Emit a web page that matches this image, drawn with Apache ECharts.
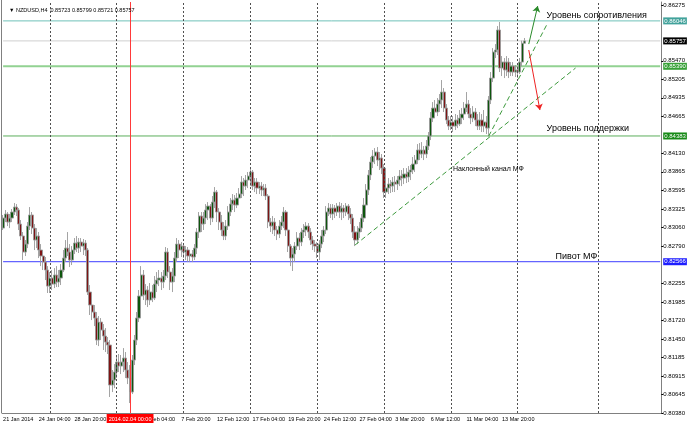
<!DOCTYPE html>
<html><head><meta charset="utf-8">
<script src="https://cdn.jsdelivr.net/npm/echarts@6/dist/echarts.min.js"></script>
<style>html,body{margin:0;padding:0;background:#fff}#c{width:688px;height:426px}</style>
</head><body><div id="c"></div>
<script>
// H4 candles, NZDUSD: [open, close, low, high]
const candles = [
[0.83052,0.83197,0.83024,0.83241],[0.83197,0.83255,0.83139,0.83313],[0.83255,0.83139,0.83081,0.83284],[0.83139,0.83197,0.83052,0.83255],
[0.83197,0.83284,0.83139,0.83327],[0.83284,0.83356,0.83241,0.83414],[0.83356,0.83313,0.83226,0.83399],[0.83313,0.83110,0.83024,0.83341],
[0.83110,0.82937,0.82879,0.83168],[0.82937,0.82706,0.82590,0.82995],[0.82706,0.82821,0.82648,0.82879],[0.82821,0.83081,0.82763,0.83139],
[0.83081,0.83241,0.83024,0.83356],[0.83241,0.83052,0.82966,0.83284],[0.83052,0.82879,0.82735,0.83110],[0.82879,0.82937,0.82763,0.83052],
[0.82937,0.82735,0.82619,0.82995],[0.82735,0.82648,0.82503,0.82821],[0.82648,0.82561,0.82446,0.82735],[0.82561,0.82446,0.82301,0.82634],
[0.82446,0.82214,0.82114,0.82503],[0.82214,0.82330,0.82114,0.82417],[0.82330,0.82243,0.82157,0.82446],[0.82243,0.82374,0.82185,0.82474],
[0.82374,0.82272,0.82200,0.82503],[0.82272,0.82330,0.82200,0.82446],[0.82330,0.82446,0.82229,0.82532],[0.82446,0.82619,0.82417,0.82735],
[0.82619,0.82763,0.82561,0.82879],[0.82763,0.82706,0.82648,0.82995],[0.82706,0.82590,0.82489,0.82821],[0.82590,0.82735,0.82518,0.82792],
[0.82735,0.82836,0.82677,0.82908],[0.82836,0.82763,0.82706,0.82937],[0.82763,0.82850,0.82692,0.82908],[0.82850,0.82792,0.82706,0.82908],
[0.82792,0.82836,0.82663,0.82894],[0.82836,0.82735,0.82648,0.82879],[0.82735,0.82128,0.82085,0.82763],[0.82128,0.81940,0.81796,0.82229],
[0.81940,0.81839,0.81723,0.82070],[0.81839,0.81752,0.81636,0.81940],[0.81752,0.81434,0.81362,0.81839],[0.81434,0.81694,0.81347,0.81781],
[0.81694,0.81579,0.81434,0.81752],[0.81579,0.81492,0.81290,0.81665],[0.81492,0.81405,0.81261,0.81607],[0.81405,0.81362,0.81232,0.81478],
[0.81362,0.80784,0.80611,0.81434],[0.80784,0.80856,0.80683,0.81001],[0.80856,0.80972,0.80740,0.81087],[0.80972,0.81116,0.80885,0.81218],
[0.81116,0.81058,0.80972,0.81232],[0.81058,0.81116,0.80943,0.81218],[0.81116,0.81174,0.80972,0.81318],[0.81174,0.81001,0.80885,0.81261],
[0.81001,0.80885,0.80798,0.81116],[0.80885,0.80683,0.80524,0.81073],[0.80683,0.81145,0.80654,0.81218],[0.81145,0.81434,0.81073,0.81507],
[0.81434,0.81752,0.81362,0.81839],[0.81752,0.82070,0.81694,0.82157],[0.82070,0.82374,0.82012,0.82503],[0.82374,0.82085,0.82012,0.82446],
[0.82085,0.82157,0.81940,0.82243],[0.82157,0.82012,0.81911,0.82214],[0.82012,0.82128,0.81940,0.82258],[0.82128,0.82041,0.81983,0.82229],
[0.82041,0.82243,0.82012,0.82359],[0.82243,0.82301,0.82128,0.82417],[0.82301,0.82330,0.82214,0.82446],[0.82330,0.82272,0.82157,0.82417],
[0.82272,0.82359,0.82185,0.82446],[0.82359,0.82706,0.82301,0.82778],[0.82706,0.82417,0.82330,0.82763],[0.82417,0.82272,0.82157,0.82503],
[0.82272,0.82359,0.82128,0.82474],[0.82359,0.82619,0.82272,0.82706],[0.82619,0.82821,0.82561,0.82908],[0.82821,0.82735,0.82619,0.82879],
[0.82735,0.82792,0.82634,0.82850],[0.82792,0.82706,0.82619,0.82821],[0.82706,0.82735,0.82590,0.82792],[0.82735,0.82648,0.82561,0.82778],
[0.82648,0.82677,0.82561,0.82735],[0.82677,0.82634,0.82561,0.82735],[0.82634,0.82763,0.82590,0.82821],[0.82763,0.82995,0.82677,0.83052],
[0.82995,0.83226,0.82908,0.83284],[0.83226,0.83110,0.82995,0.83284],[0.83110,0.83197,0.83024,0.83284],[0.83197,0.83313,0.83110,0.83399],
[0.83313,0.83370,0.83168,0.83428],[0.83370,0.83197,0.83096,0.83399],[0.83197,0.83428,0.83139,0.83515],[0.83428,0.83573,0.83341,0.83645],
[0.83573,0.83284,0.83139,0.83602],[0.83284,0.83139,0.83024,0.83341],[0.83139,0.83024,0.82937,0.83241],[0.83024,0.82937,0.82879,0.83139],
[0.82937,0.83081,0.82879,0.83168],[0.83081,0.83284,0.83024,0.83370],[0.83284,0.83399,0.83226,0.83486],[0.83399,0.83457,0.83313,0.83544],
[0.83457,0.83385,0.83284,0.83530],[0.83385,0.83486,0.83341,0.83559],[0.83486,0.83544,0.83399,0.83630],[0.83544,0.83717,0.83486,0.83804],
[0.83717,0.83659,0.83515,0.83775],[0.83659,0.83746,0.83602,0.83819],[0.83746,0.83804,0.83630,0.83862],[0.83804,0.83862,0.83659,0.83905],
[0.83862,0.83659,0.83602,0.83891],[0.83659,0.83717,0.83573,0.83775],[0.83717,0.83630,0.83544,0.83775],[0.83630,0.83659,0.83544,0.83717],
[0.83659,0.83602,0.83515,0.83717],[0.83602,0.83630,0.83515,0.83688],[0.83630,0.83515,0.83457,0.83688],[0.83515,0.83139,0.83052,0.83544],
[0.83139,0.83081,0.82995,0.83197],[0.83081,0.83139,0.82966,0.83226],[0.83139,0.83024,0.82937,0.83197],[0.83024,0.82966,0.82879,0.83081],
[0.82966,0.83081,0.82908,0.83168],[0.83081,0.83139,0.83024,0.83226],[0.83139,0.83284,0.83052,0.83356],[0.83284,0.83024,0.82937,0.83313],
[0.83024,0.82792,0.82706,0.83081],[0.82792,0.82619,0.82503,0.82821],[0.82619,0.82677,0.82432,0.82763],[0.82677,0.82792,0.82561,0.82850],
[0.82792,0.82908,0.82735,0.82995],[0.82908,0.82850,0.82735,0.82981],[0.82850,0.82995,0.82792,0.83052],[0.82995,0.83024,0.82908,0.83110],
[0.83024,0.83081,0.82937,0.83139],[0.83081,0.82995,0.82908,0.83125],[0.82995,0.82879,0.82807,0.83052],[0.82879,0.82821,0.82735,0.82937],
[0.82821,0.82792,0.82706,0.82879],[0.82792,0.82706,0.82619,0.82850],[0.82706,0.82821,0.82590,0.82879],[0.82821,0.82937,0.82763,0.83024],
[0.82937,0.83024,0.82850,0.83081],[0.83024,0.83284,0.82966,0.83370],[0.83284,0.83341,0.83226,0.83414],[0.83341,0.83255,0.83197,0.83399],
[0.83255,0.83341,0.83168,0.83399],[0.83341,0.83284,0.83197,0.83385],[0.83284,0.83370,0.83226,0.83414],[0.83370,0.83284,0.83197,0.83428],
[0.83284,0.83341,0.83168,0.83414],[0.83341,0.83284,0.83197,0.83385],[0.83284,0.83370,0.83226,0.83414],[0.83370,0.83255,0.83168,0.83399],
[0.83255,0.83197,0.83110,0.83341],[0.83197,0.82995,0.82908,0.83255],[0.82995,0.82879,0.82792,0.83081],[0.82879,0.82995,0.82821,0.83081],
[0.82995,0.83052,0.82908,0.83139],[0.83052,0.83197,0.82995,0.83255],[0.83197,0.83385,0.83139,0.83486],[0.83385,0.83602,0.83313,0.83688],
[0.83602,0.83819,0.83530,0.83891],[0.83819,0.84006,0.83746,0.84079],[0.84006,0.84093,0.83919,0.84180],[0.84093,0.84151,0.83977,0.84208],
[0.84151,0.84035,0.83948,0.84223],[0.84035,0.84064,0.83891,0.84151],[0.84064,0.83919,0.83833,0.84122],[0.83919,0.83573,0.83486,0.83977],
[0.83573,0.83630,0.83486,0.83717],[0.83630,0.83688,0.83544,0.83775],[0.83688,0.83659,0.83559,0.83746],[0.83659,0.83717,0.83573,0.83790],
[0.83717,0.83688,0.83573,0.83804],[0.83688,0.83746,0.83602,0.83804],[0.83746,0.83804,0.83659,0.83891],[0.83804,0.83775,0.83659,0.83891],
[0.83775,0.83833,0.83688,0.83919],[0.83833,0.83790,0.83703,0.83919],[0.83790,0.83862,0.83717,0.83948],[0.83862,0.83891,0.83746,0.83963],
[0.83891,0.83977,0.83833,0.84079],[0.83977,0.84035,0.83862,0.84108],[0.84035,0.84180,0.83977,0.84266],[0.84180,0.84122,0.84035,0.84281],
[0.84122,0.84180,0.84064,0.84295],[0.84180,0.84122,0.84035,0.84237],[0.84122,0.84237,0.84064,0.84324],[0.84237,0.84382,0.84180,0.84440],
[0.84382,0.84642,0.84324,0.84729],[0.84642,0.84786,0.84584,0.84873],[0.84786,0.84729,0.84642,0.84902],[0.84729,0.84844,0.84671,0.84931],
[0.84844,0.84902,0.84729,0.84989],[0.84902,0.85018,0.84786,0.85191],[0.85018,0.84786,0.84729,0.85075],[0.84786,0.84613,0.84555,0.84844],
[0.84613,0.84526,0.84469,0.84671],[0.84526,0.84584,0.84469,0.84671],[0.84584,0.84526,0.84440,0.84671],[0.84526,0.84613,0.84469,0.84700],
[0.84613,0.84555,0.84497,0.84686],[0.84555,0.84642,0.84526,0.84758],[0.84642,0.84700,0.84555,0.84786],[0.84700,0.84786,0.84613,0.84873],
[0.84786,0.84844,0.84729,0.85018],[0.84844,0.84700,0.84642,0.84902],[0.84700,0.84642,0.84555,0.84786],[0.84642,0.84729,0.84584,0.84815],
[0.84729,0.84613,0.84526,0.84786],[0.84613,0.84526,0.84469,0.84700],[0.84526,0.84613,0.84469,0.84729],[0.84613,0.84526,0.84440,0.84700],
[0.84526,0.84584,0.84440,0.84758],[0.84584,0.84497,0.84411,0.84671],[0.84497,0.84902,0.84380,0.84960],[0.84902,0.85220,0.84844,0.85307],
[0.85220,0.85596,0.85162,0.85653],[0.85596,0.85625,0.85509,0.85711],[0.85625,0.85914,0.85553,0.85971],[0.85914,0.85364,0.85307,0.86030],
[0.85364,0.85451,0.85249,0.85538],[0.85451,0.85336,0.85220,0.85509],[0.85336,0.85451,0.85249,0.85538],[0.85451,0.85307,0.85220,0.85509],
[0.85307,0.85393,0.85249,0.85451],[0.85393,0.85307,0.85249,0.85451],[0.85307,0.85336,0.85235,0.85408],[0.85336,0.85307,0.85220,0.85393],
[0.85307,0.85451,0.85278,0.85509],[0.85451,0.85723,0.85393,0.85760],[0.85723,0.85757,0.85721,0.85799]
];

// price-axis tick labels (as shown by the terminal)
const yTickLabels = [0.86275,0.85470,0.85205,0.84935,0.84665,0.84130,0.83865,0.83595,0.83325,0.83060,0.82790,0.82255,0.81985,0.81720,0.81450,0.81185,0.80915,0.80645,0.80380];
// time-axis tick labels: [bar index, text]
const xTickLabels = [[0,'21 Jan 2014'],[16,'24 Jan 04:00'],[32,'28 Jan 20:00'],[48,'31 Jan 12:00'],[64,'5 Feb 04:00'],[80,'7 Feb 20:00'],[96,'12 Feb 12:00'],[112,'17 Feb 04:00'],[128,'19 Feb 20:00'],[144,'24 Feb 12:00'],[160,'27 Feb 04:00'],[176,'3 Mar 20:00'],[192,'6 Mar 12:00'],[208,'11 Mar 04:00'],[224,'13 Mar 20:00']];
// weekly period separators (bar index)
const separators = [21,51,81,111,141,171,201,231,267];
// horizontal levels
const levelPrices = [0.86046,0.85757,0.85390,0.84383,0.82566];
const levelLine = ['#70c2b9','#d0d0d0','#92d292','#5cae5c','#6464ff'];
const levelWidth = [1,1,2,1,1.2];
const levelBox = ['#42a29b','#000000','#36a036','#178a17','#1e1eff'];
// vertical marker
const markerBar = 57, markerText = '2014.02.04 00:00';
// trend lines and arrows: [[bar, price],[bar, price]]
const channelLines = [[[158,0.82807],[257,0.85365]],[[218,0.84380],[244,0.85986]]];
const arrowUp = [[236,0.85711],[240,0.86260]];
const arrowDown = [[236,0.85625],[241,0.84758]];
// text notes: [bar, price, text, size]
const notes = [[244,0.86130,'Уровень сопротивления',9],[244,0.84498,'Уровень поддержки',9],[202,0.83905,'Наклонный канал МФ',7],[248,0.82648,'Пивот МФ',9]];
const header = '▼ NZDUSD,H4  0.85723 0.85799 0.85721 0.85757';

const SLOTS = 296;
const categories = Array.from({length: SLOTS}, (_, i) => String(i));
const xMap = new Map(xTickLabels);
const FONT = '"Liberation Sans", Arial, sans-serif';
const Y_MIN = 0.80380, Y_MAX = 0.86319;

const vData = separators.map(s => ({xAxis: s, lineStyle: {color: '#505050', width: 1, type: [2, 2]}, label: {show: false}}));
vData.push({xAxis: markerBar, lineStyle: {color: '#ff3a3a', width: 1, type: 'solid'},
  label: {show: true, position: 'start', distance: 1, formatter: markerText, color: '#fff', backgroundColor: '#ff0000', padding: [2, 2, 1, 2], fontSize: 5.5, fontFamily: FONT}});

// each level as its own flat line series across the plot, price box at its end
const levelSeries = levelPrices.map((p, k) => ({
  type: 'line', silent: true, z: 2,
  data: [[0, p], [SLOTS - 1, p]],
  symbol: 'none',
  lineStyle: {color: levelLine[k], width: levelWidth[k]},
  endLabel: {show: true, distance: 3, formatter: p.toFixed(5), color: '#fff', backgroundColor: levelBox[k], padding: [1, 1, 0, 1], fontSize: 6, fontFamily: FONT}
}));

const chart = echarts.init(document.getElementById('c'));
chart.setOption({
  animation: false,
  backgroundColor: '#fff',
  title: {text: header, left: 4, top: 2, textStyle: {fontSize: 5.5, fontWeight: 'normal', color: '#000', fontFamily: FONT}},
  grid: {left: 2, right: 25, top: 2, bottom: 13},
  graphic: [{type: 'line', shape: {x1: 1.5, y1: 0, x2: 1.5, y2: 413}, style: {stroke: '#808080', lineWidth: 1}, silent: true}],
  xAxis: {
    type: 'category', data: categories, boundaryGap: true,
    axisLine: {lineStyle: {color: '#808080'}},
    axisTick: {alignWithLabel: true, interval: (i) => xMap.has(i), length: 2, lineStyle: {color: '#000'}},
    axisLabel: {interval: (i) => xMap.has(i), formatter: (v, i) => xMap.get(i) || '', align: 'left', fontSize: 5.5, color: '#000', margin: 3, fontFamily: FONT, hideOverlap: false},
    splitLine: {show: false}
  },
  yAxis: {
    type: 'value', position: 'right', min: Y_MIN, max: Y_MAX,
    axisLine: {show: true, lineStyle: {color: '#808080'}},
    axisTick: {show: true, customValues: yTickLabels, length: 2, lineStyle: {color: '#000'}},
    axisLabel: {customValues: yTickLabels, formatter: v => v.toFixed(5), fontSize: 6, color: '#000', margin: 2, fontFamily: FONT},
    splitLine: {show: false}
  },
  series: [...levelSeries, {
    type: 'candlestick', data: candles, barWidth: 2.6, z: 3,
    itemStyle: {color: '#0d560d', color0: '#7e1414', borderColor: '#9a9a9a', borderColor0: '#9a9a9a', borderWidth: 0.9},
    markLine: {symbol: ['none', 'none'], silent: true, animation: false, data: vData},
    markPoint: {
      symbol: 'circle', symbolSize: 0, silent: true, animation: false,
      data: notes.map(n => ({coord: [n[0], n[1]], value: n[2],
        label: {show: true, position: 'right', distance: 0, formatter: n[2], color: '#000', fontSize: n[3], fontFamily: FONT}}))
    }
  }, {
    type: 'lines', coordinateSystem: 'cartesian2d', silent: true, z: 4,
    symbol: 'none',
    lineStyle: {color: '#3c9a3c', width: 1, type: [5, 3], opacity: 1},
    data: channelLines.map(c => ({coords: c}))
  }, {
    type: 'lines', coordinateSystem: 'cartesian2d', silent: true, z: 5,
    symbol: ['none', 'arrow'], symbolSize: 6,
    data: [
      {coords: arrowUp, lineStyle: {color: '#2a8a2a', width: 1, type: 'solid', opacity: 1}},
      {coords: arrowDown, lineStyle: {color: '#ee2222', width: 1, type: 'solid', opacity: 1}}
    ]
  }]
});
</script>
</body></html>
